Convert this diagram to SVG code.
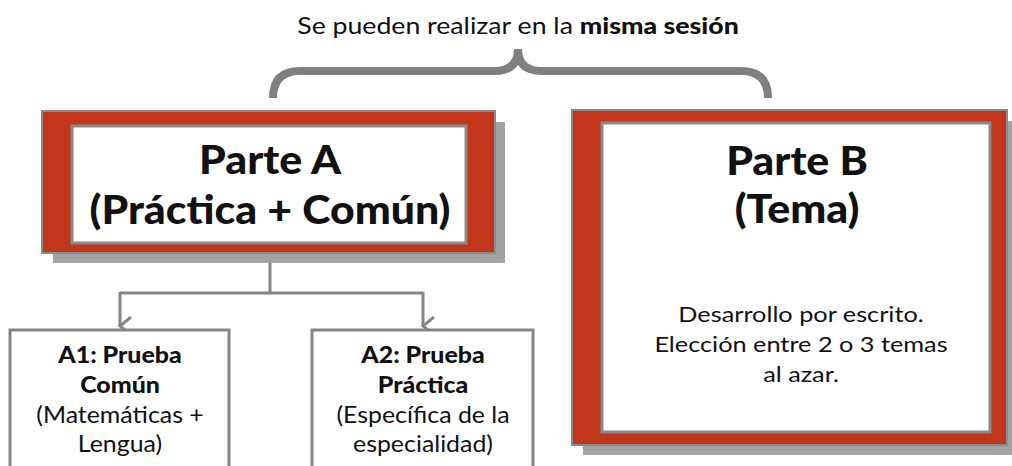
<svg xmlns="http://www.w3.org/2000/svg" width="1012" height="466" viewBox="0 0 1012 466">
<defs>
<style>
text{font-family:Lato,"Noto Sans","Liberation Sans",sans-serif;fill:#111;text-anchor:middle}
.big{font-size:40px;font-weight:900}
.body{font-size:22px}
.sub{font-size:23.5px}
.subb{font-size:23.5px;font-weight:900}
.shadow{fill:#a3a3a3}
.outer{fill:#c2361c;stroke:#8a8a8a;stroke-width:2}
.inner{fill:#fff;stroke:#8a8a8a;stroke-width:3}
.box{fill:#fff;stroke:#858585;stroke-width:3}
.conn{fill:none;stroke:#858585;stroke-width:3}
</style>
<marker id="arr" viewBox="0 0 20 14" refX="10" refY="12" markerWidth="20" markerHeight="14" markerUnits="userSpaceOnUse" orient="auto-start-reverse">
<path d="M1,1 L10,12 L19,1" fill="none" stroke="#858585" stroke-width="3"/>
</marker>
</defs>
<rect width="1012" height="466" fill="#fff"/>
<text transform="translate(518 0) scale(1.16 1)" x="0" y="34" style="font-size:23px">Se pueden realizar en la <tspan font-weight="900">misma sesión</tspan></text>
<path d="M273,98 Q273,71 300,71 L494,71 Q518,71 518,49 Q518,71 542,71 L741,71 Q768,71 768,98" fill="none" stroke="#808080" stroke-width="8"/>
<g id="connectors">
<path class="conn" d="M270,254 L270,293"/>
<path class="conn" d="M120,293 L423,293"/>
<path class="conn" d="M120,292 L120,326" marker-end="url(#arr)"/>
<path class="conn" d="M423,292 L423,326" marker-end="url(#arr)"/>
</g>
<g id="parteA">
<rect class="shadow" x="53" y="122" width="452" height="141"/>
<rect class="outer" x="42" y="111" width="453" height="142"/>
<rect class="inner" x="72" y="126" width="394" height="117"/>
<text transform="translate(270 0) scale(1.07 1)" x="0" y="174" class="big">Parte A</text>
<text transform="translate(270 0) scale(1.07 1)" x="0" y="224" class="big">(Práctica + Común)</text>
</g>
<g id="parteB">
<rect class="shadow" x="583" y="121" width="429" height="334"/>
<rect class="outer" x="572" y="110" width="435" height="335"/>
<rect class="inner" x="602" y="123" width="388" height="309"/>
<text transform="translate(797 0) scale(1.07 1)" x="0" y="175" class="big">Parte B</text>
<text transform="translate(797 0) scale(1.07 1)" x="0" y="223" class="big">(Tema)</text>
<text transform="translate(801 0) scale(1.15 1)" x="0" y="322" class="body">Desarrollo por escrito.</text>
<text transform="translate(801 0) scale(1.15 1)" x="0" y="352" class="body">Elección entre 2 o 3 temas</text>
<text transform="translate(801 0) scale(1.15 1)" x="0" y="382" class="body">al azar.</text>
</g>
<g id="a1">
<rect class="box" x="10" y="330" width="219" height="150"/>
<text transform="translate(120 0) scale(1.06 1)" x="0" y="363" class="subb">A1: Prueba</text>
<text transform="translate(120 0) scale(1.06 1)" x="0" y="393" class="subb">Común</text>
<text transform="translate(120 0) scale(1.06 1)" x="0" y="423" class="sub">(Matemáticas +</text>
<text transform="translate(120 0) scale(1.06 1)" x="0" y="452" class="sub">Lengua)</text>
</g>
<g id="a2">
<rect class="box" x="312" y="330" width="221" height="150"/>
<text transform="translate(423 0) scale(1.06 1)" x="0" y="363" class="subb">A2: Prueba</text>
<text transform="translate(423 0) scale(1.06 1)" x="0" y="393" class="subb">Práctica</text>
<text transform="translate(423 0) scale(1.06 1)" x="0" y="423" class="sub">(Específica de la</text>
<text transform="translate(423 0) scale(1.06 1)" x="0" y="452" class="sub">especialidad)</text>
</g>
</svg>
